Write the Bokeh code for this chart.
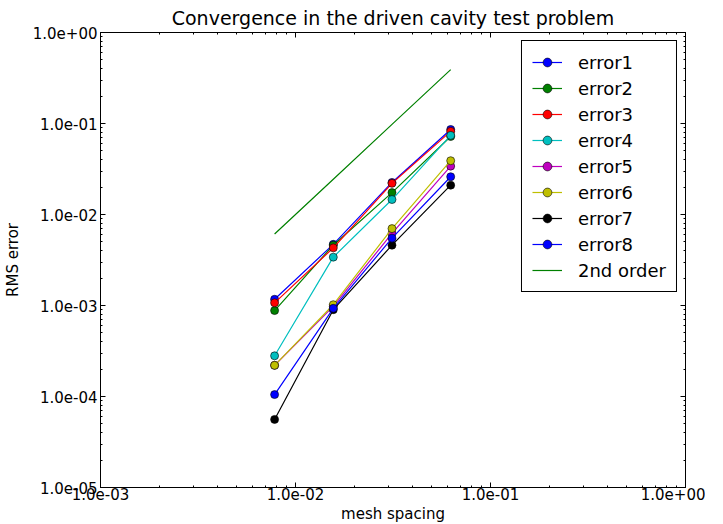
from bokeh.plotting import figure
from bokeh.models import LogAxis, CustomJSTickFormatter, Legend, LegendItem, FixedTicker
from bokeh.embed import file_html
from bokeh.resources import INLINE

# ---- data ----
mesh_spacing = [0.0078125, 0.015625, 0.03125, 0.0625]
error1 = [1.17e-3, 4.7e-3, 2.25e-2, 8.6e-2]
error2 = [8.8e-4, 4.6e-3, 1.74e-2, 7.2e-2]
error3 = [1.07e-3, 4.3e-3, 2.2e-2, 8.2e-2]
error4 = [2.8e-4, 3.4e-3, 1.46e-2, 7.4e-2]
error5 = [2.2e-4, 9.8e-4, 6.2e-3, 3.4e-2]
error6 = [2.2e-4, 1.02e-3, 7.0e-3, 3.9e-2]
error7 = [5.6e-5, 9.0e-4, 4.6e-3, 2.1e-2]
error8 = [1.05e-4, 9.3e-4, 5.5e-3, 2.6e-2]
second_order = [6.1e-3, 2.44e-2, 9.77e-2, 3.91e-1]

series_names = ["error1", "error2", "error3", "error4", "error5", "error6", "error7", "error8"]
series_values = [error1, error2, error3, error4, error5, error6, error7, error8]
series_colors = ["#0000ff", "#008000", "#ff0000", "#00bfbf", "#bf00bf", "#bfbf00", "#000000", "#0000ff"]

major_ticks_x = [1e-3, 1e-2, 1e-1, 1e0]
major_ticks_y = [1e-5, 1e-4, 1e-3, 1e-2, 1e-1, 1e0]

FONT = "DejaVu Sans"

p = figure(frame_width=585, frame_height=455, x_axis_type="log", y_axis_type="log",
           x_range=(1e-3, 1e0), y_range=(1e-5, 1e0),
           output_backend="svg", toolbar_location=None,
           title="Convergence in the driven cavity test problem",
           min_border_left=98, min_border_right=20, min_border_top=0, min_border_bottom=0)

p.title.align = "center"
p.title.text_font = FONT
p.title.text_font_style = "normal"
p.title.text_font_size = "19px"
p.title.text_color = "black"
p.title.standoff = 8

p.xgrid.visible = False
p.ygrid.visible = False
p.outline_line_color = "black"
p.outline_line_width = 1
p.outline_line_alpha = 1.0

fmt_code = """
const s = tick.toExponential(1);
const parts = s.split('e');
let e = parseInt(parts[1]);
const sign = e < 0 ? '-' : '+';
e = Math.abs(e);
return parts[0] + 'e' + sign + (e < 10 ? '0' : '') + e;
"""

def minor_list(majors):
    out = []
    for m in majors[:-1]:
        for k in range(2, 10):
            out.append(m * k)
    return out

xticker = FixedTicker(ticks=major_ticks_x, minor_ticks=minor_list(major_ticks_x))
yticker = FixedTicker(ticks=major_ticks_y, minor_ticks=minor_list(major_ticks_y))

def style_axis(ax, show_labels):
    ax.axis_line_color = "black"
    ax.major_tick_in = 5
    ax.major_tick_out = 0
    ax.minor_tick_in = 2
    ax.minor_tick_out = 0
    ax.major_tick_line_color = "black"
    ax.minor_tick_line_color = "black"
    ax.major_label_text_font = FONT
    ax.axis_label_text_font = FONT
    ax.axis_label_text_font_style = "normal"
    ax.axis_label_text_font_size = "15px"
    ax.axis_label_text_color = "black"
    ax.axis_label_text_line_height = 1.0
    ax.major_label_text_line_height = 1.0
    if show_labels:
        ax.major_label_text_font_size = "15px"
        ax.major_label_text_color = "black"
        ax.formatter = CustomJSTickFormatter(code=fmt_code)
    else:
        ax.major_label_text_font_size = "1px"
        ax.major_label_text_color = None
        ax.major_label_standoff = 0
        ax.formatter = CustomJSTickFormatter(code="return '.';")

xa = p.xaxis[0]
ya = p.yaxis[0]
xa.ticker = xticker
ya.ticker = yticker
style_axis(xa, True)
style_axis(ya, True)
xa.axis_label = "mesh spacing"
ya.axis_label = "RMS error"
xa.major_label_standoff = 0
xa.axis_label_standoff = 2
ya.major_label_standoff = 3
ya.axis_label_standoff = 8

top_axis = LogAxis(ticker=xticker)
right_axis = LogAxis(ticker=yticker)
style_axis(top_axis, False)
style_axis(right_axis, False)
p.add_layout(top_axis, "above")
p.add_layout(right_axis, "right")

items = []
for name, vals, col in zip(series_names, series_values, series_colors):
    ln = p.line(mesh_spacing, vals, line_color=col, line_width=1.2)
    sc = p.scatter(mesh_spacing, vals, size=8, fill_color=col, line_color="black", line_width=0.6)
    items.append(LegendItem(label=name, renderers=[ln, sc]))

ln2 = p.line(mesh_spacing, second_order, line_color="#008000", line_width=1.2)
items.append(LegendItem(label="2nd order", renderers=[ln2]))

legend = Legend(items=items, location="top_right")
legend.label_text_font = FONT
legend.label_text_font_size = "18px"
legend.label_text_color = "black"
legend.border_line_color = "black"
legend.border_line_width = 1
legend.border_line_alpha = 1.0
legend.background_fill_color = "white"
legend.background_fill_alpha = 1.0
legend.padding = 10
legend.margin = 8
legend.glyph_width = 30
legend.glyph_height = 22
legend.label_height = 22
legend.label_standoff = 16
legend.spacing = 4
p.add_layout(legend)

open("out.html", "w").write(file_html(p, INLINE))
